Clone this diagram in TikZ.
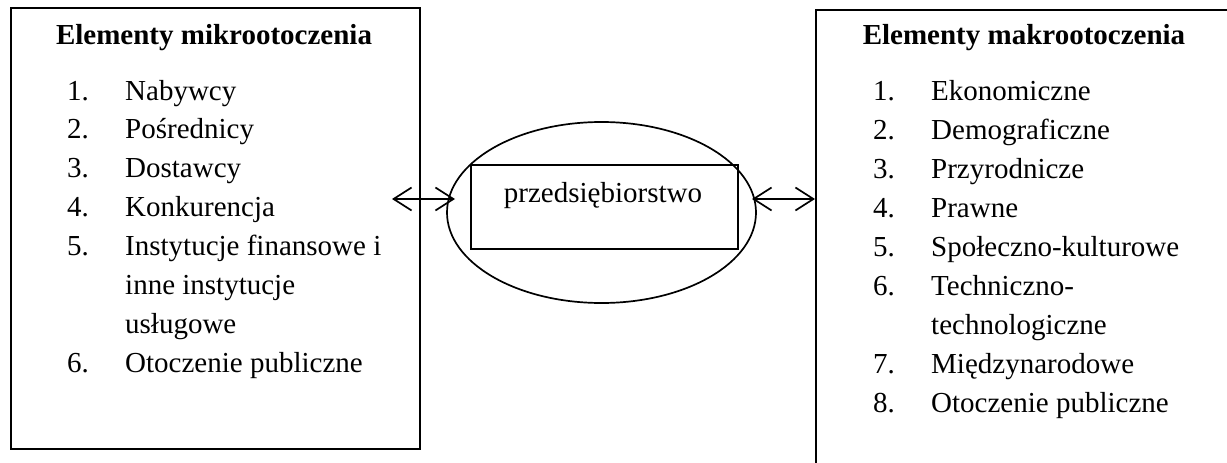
\documentclass[tikz,border=0pt]{standalone}
\usepackage{fontspec}
\setmainfont{Liberation Serif}
\usetikzlibrary{shapes.geometric,arrows.meta}
\begin{document}
\begin{tikzpicture}[x=1pt,y=-1pt,
  frame/.style={line width=1.5pt},
  txt/.style={inner sep=0pt,anchor=base west,font=\fontsize{29}{39}\selectfont},
  ttl/.style={inner sep=0pt,anchor=base,font=\fontsize{29}{39}\selectfont\bfseries},
  biarrow/.style={line width=1.7pt,{Straight Barb[length=18pt,width=23pt,line width=1.7pt]}-{Straight Barb[length=18pt,width=23pt,line width=1.7pt]}}]
\useasboundingbox (0,0) rectangle (1227,463);
\clip (0,0) rectangle (1227,463);
% left box
\node[draw,frame,minimum width=409pt,minimum height=441pt,anchor=north west,inner sep=0pt] (micro) at (10,7) {};
% right box (cut off by page edge)
\node[draw,frame,minimum width=450pt,minimum height=500pt,anchor=north west,inner sep=0pt] (macro) at (815,9) {};
% centre
\node[draw,ellipse,line width=1.7pt,minimum width=309pt,minimum height=181pt,inner sep=0pt] (ell) at (601.5,212.5) {};
\node[draw,line width=1.2pt,minimum width=267pt,minimum height=84pt,inner sep=0pt] (firm) at (604.5,207) {};
\node[txt,anchor=base] (firmtxt) at (603,202) {przedsiębiorstwo};
% titles
\node[ttl] (t1) at (214,45) {Elementy mikrootoczenia};
\node[ttl] (t2) at (1024,45) {Elementy makrootoczenia};
% left list
\foreach \n/\t/\y in {1/1./100,2/2./138.9,3/3./177.8,4/4./216.7,5/5./255.6,6/6./372.3}
  \node[txt] (ln\n) at (67,\y) {\t};
\node[txt] (li1) at (125,100) {Nabywcy};
\node[txt] (li2) at (125,138.9) {Pośrednicy};
\node[txt] (li3) at (125,177.8) {Dostawcy};
\node[txt] (li4) at (125,216.7) {Konkurencja};
\node[txt] (li5) at (125,255.6) {Instytucje finansowe i};
\node[txt] (li5b) at (125,294.5) {inne instytucje};
\node[txt] (li5c) at (125,333.4) {usługowe};
\node[txt] (li6) at (125,372.3) {Otoczenie publiczne};
% right list
\foreach \n/\t/\y in {1/1./100,2/2./139,3/3./178,4/4./217,5/5./256,6/6./295,7/7./373,8/8./412}
  \node[txt] (rn\n) at (873,\y) {\t};
\node[txt] (ri1) at (931,100) {Ekonomiczne};
\node[txt] (ri2) at (931,139) {Demograficzne};
\node[txt] (ri3) at (931,178) {Przyrodnicze};
\node[txt] (ri4) at (931,217) {Prawne};
\node[txt] (ri5) at (931,256) {Społeczno-kulturowe};
\node[txt] (ri6) at (931,295) {Techniczno-};
\node[txt] (ri6b) at (931,334) {technologiczne};
\node[txt] (ri7) at (931,373) {Międzynarodowe};
\node[txt] (ri8) at (931,412) {Otoczenie publiczne};
% arrows
\coordinate (la) at (392,199);
\coordinate (lb) at (455,199);
\coordinate (ra) at (752,199);
\draw[biarrow] (la) -- (lb);
\draw[biarrow] (ra) -- (ra -| macro.west);
\end{tikzpicture}
\end{document}
